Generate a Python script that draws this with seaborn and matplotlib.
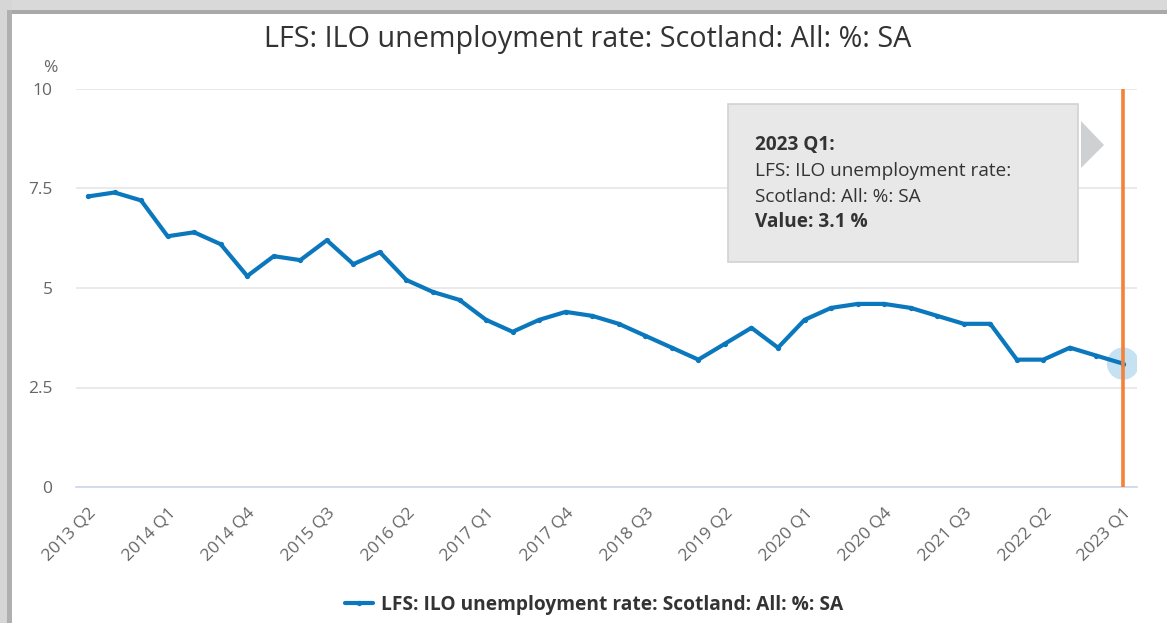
import matplotlib
matplotlib.use("Agg")
import matplotlib.pyplot as plt
from matplotlib.patches import Rectangle, Polygon
import numpy as np
import pandas as pd
import seaborn as sns

# Quarterly ILO unemployment rate, Scotland, seasonally adjusted (%)
quarters = [
    "2013 Q2", "2013 Q3", "2013 Q4",
    "2014 Q1", "2014 Q2", "2014 Q3", "2014 Q4",
    "2015 Q1", "2015 Q2", "2015 Q3", "2015 Q4",
    "2016 Q1", "2016 Q2", "2016 Q3", "2016 Q4",
    "2017 Q1", "2017 Q2", "2017 Q3", "2017 Q4",
    "2018 Q1", "2018 Q2", "2018 Q3", "2018 Q4",
    "2019 Q1", "2019 Q2", "2019 Q3", "2019 Q4",
    "2020 Q1", "2020 Q2", "2020 Q3", "2020 Q4",
    "2021 Q1", "2021 Q2", "2021 Q3", "2021 Q4",
    "2022 Q1", "2022 Q2", "2022 Q3", "2022 Q4",
    "2023 Q1",
]
rate = [
    7.3, 7.4, 7.2,
    6.3, 6.4, 6.1, 5.3,
    5.8, 5.7, 6.2, 5.6,
    5.9, 5.2, 4.9, 4.7,
    4.2, 3.9, 4.2, 4.4,
    4.3, 4.1, 3.8, 3.5,
    3.2, 3.6, 4.0, 3.5,
    4.2, 4.5, 4.6, 4.6,
    4.5, 4.3, 4.1, 4.1,
    3.2, 3.2, 3.5, 3.3,
    3.1,
]
y_ticks = [0, 2.5, 5, 7.5, 10]
y_tick_labels = ["0", "2.5", "5", "7.5", "10"]
series_name = "LFS: ILO unemployment rate: Scotland: All: %: SA"
highlight = "2023 Q1"

df = pd.DataFrame({"quarter": quarters, "rate": rate})
df["pos"] = np.arange(len(df))

sns.set_theme(style="white")
plt.rcParams["font.family"] = ["Open Sans", "DejaVu Sans"]

W, H = 1167, 623
fig = plt.figure(figsize=(W / 100, H / 100), dpi=100)
fig.patch.set_facecolor("white")

# window frame around the panel
fig.patches.append(Rectangle((0, 1 - 14 / H), 1, 14 / H, transform=fig.transFigure,
                             facecolor="#d9d9d9", edgecolor="none", zorder=0))
fig.patches.append(Rectangle((0, 1 - 14 / H), 1, 4 / H, transform=fig.transFigure,
                             facecolor="#a9a9a9", edgecolor="none", zorder=0))
fig.patches.append(Rectangle((0, 0), 12 / W, 1, transform=fig.transFigure,
                             facecolor="#d6d6d6", edgecolor="none", zorder=0))
fig.patches.append(Rectangle((7 / W, 0), 5 / W, 1 - 10 / H, transform=fig.transFigure,
                             facecolor="#b0b0b0", edgecolor="none", zorder=0))

ax_left, ax_right, ax_top, ax_bottom = 76, 1137, 89, 487
ax = fig.add_axes([ax_left / W, 1 - ax_bottom / H,
                   (ax_right - ax_left) / W, (ax_bottom - ax_top) / H])
ax.set_facecolor("white")

line_color = "#0b78bd"
sns.lineplot(data=df, x="pos", y="rate", ax=ax, color=line_color, linewidth=3.0,
             marker="o", markersize=3.8, markeredgewidth=0, label=series_name,
             zorder=4, legend=False)

n = len(df)
px_per_q = (1123 - 88) / (n - 1)
ax.set_xlim(-(88 - ax_left) / px_per_q, (n - 1) + (ax_right - 1123) / px_per_q)
ax.set_ylim(0, 10)

tick_fs = 12.5

# y axis
ax.set_yticks(y_ticks)
ax.set_yticklabels(y_tick_labels)
ax.yaxis.grid(True, color="#e6e6e6", linewidth=1.2)
ax.tick_params(axis="y", length=0, pad=17, labelsize=tick_fs, labelcolor="#666666")
fig.text(50 / W, 1 - 68 / H, "%", ha="center", va="center",
         fontsize=tick_fs, color="#666666")

# x axis
ax.set_xticks(df["pos"].iloc[::3].tolist())
ax.set_xticklabels(df["quarter"].iloc[::3].tolist(), rotation=45, ha="right",
                   rotation_mode="anchor")
ax.tick_params(axis="x", length=10, width=1, color="#ccd6eb", pad=3,
               labelsize=tick_fs, labelcolor="#666666", direction="out")
for side in ["top", "right", "left"]:
    ax.spines[side].set_visible(False)
ax.spines["bottom"].set_color("#ccd6eb")
ax.spines["bottom"].set_linewidth(1.2)
ax.set_xlabel("")
ax.set_ylabel("")

# highlighted point with crosshair
hl = df[df["quarter"] == highlight].iloc[0]
ax.axvline(hl["pos"], color="#f4823a", linewidth=2.6, zorder=5)
ax.scatter([hl["pos"]], [hl["rate"]], s=540, color="#7fbde4", alpha=0.45,
           edgecolors="none", zorder=3)

# tooltip
tx0, ty0, tx1, ty1 = 728, 104, 1078, 262
fig.patches.append(Rectangle((tx0 / W, 1 - ty1 / H), (tx1 - tx0) / W, (ty1 - ty0) / H,
                             transform=fig.transFigure, facecolor="#e8e8e8",
                             edgecolor="#d2d2d2", linewidth=1.2, zorder=10))
fig.patches.append(Polygon([(1081 / W, 1 - 121 / H), (1104 / W, 1 - 145 / H),
                            (1081 / W, 1 - 168 / H)], closed=True,
                           transform=fig.transFigure, facecolor="#cfd0d2",
                           edgecolor="none", zorder=10))
tip_lines = [
    (f"{highlight}:", "bold", 145),
    ("LFS: ILO unemployment rate:", "normal", 171),
    ("Scotland: All: %: SA", "normal", 197),
    (f"Value: {hl['rate']:.1f} %", "bold", 222),
]
for txt, weight, yy in tip_lines:
    fig.text(755 / W, 1 - yy / H, txt, ha="left", va="center", fontsize=13.7,
             fontweight=weight, color="#333333", zorder=11)

# title
fig.text(588 / W, 1 - 40 / H, series_name, ha="center", va="center",
         fontsize=20.7, color="#333333")

# legend
handle = ax.lines[0]
fig.legend([handle], [series_name], loc="center", bbox_to_anchor=(594 / W, 1 - 605 / H),
           frameon=False, prop={"weight": "bold", "size": 13.8}, labelcolor="#333333",
           handlelength=1.5, handletextpad=0.4, markerscale=1.0)

fig.savefig("out.png", dpi=100, facecolor=fig.get_facecolor())
